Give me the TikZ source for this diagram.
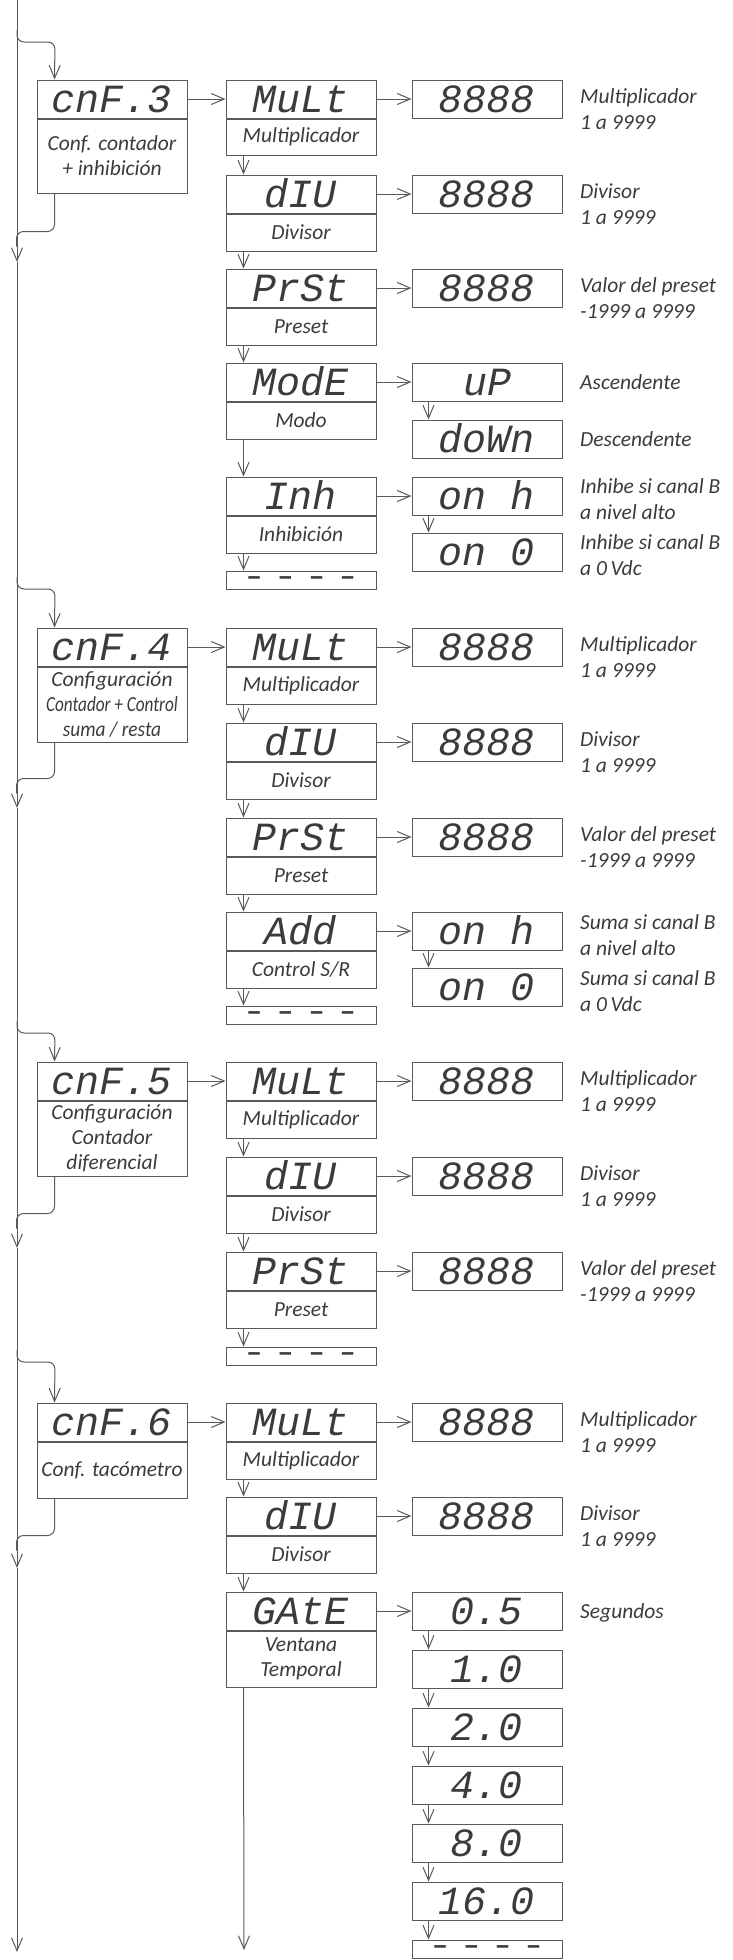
\documentclass[tikz,border=0pt]{standalone}
\usepackage{fontspec}
\setmainfont{Carlito}
\newfontfamily\segfont{Liberation Mono}
\usetikzlibrary{arrows.meta,positioning}
\definecolor{linec}{HTML}{595959}
\definecolor{textc}{HTML}{3B3B3B}
\newcommand{\dashrow}{\raisebox{-4pt}{\textendash\ \textendash\ \textendash\ \textendash}}

\begin{document}
\begin{tikzpicture}[x=1pt,y=-1pt,
    flow/.style={-{Straight Barb[length=13pt,width=11pt]},draw=linec,line width=1pt},
    link/.style={draw=linec,line width=1pt,rounded corners=7pt},
    disp/.style={draw=linec,line width=1pt,minimum width=150pt,minimum height=38pt,inner sep=0pt,
                 text=textc,font=\segfont\itshape\fontsize{40}{40}\selectfont,
                 text height=26pt,text depth=0pt},
    dashbox/.style={disp,minimum height=18pt,text height=0pt,text depth=0pt,
                    font=\segfont\bfseries\fontsize{26}{26}\selectfont},
    lab/.style={draw=linec,line width=1pt,minimum width=150pt,inner sep=0pt,text=textc,
                align=center,font=\itshape\fontsize{21.5}{25}\selectfont},
    note/.style={anchor=base west,inner sep=0pt,text=textc,align=left,
                 font=\itshape\fontsize{21.5}{26}\selectfont}]
    \useasboundingbox (0,0) rectangle (733,1960);

    %main line
    \coordinate (top) at (17,0);
    \coordinate (j3) at (17,262);
    \coordinate (j4) at (17,808);
    \coordinate (j5) at (17,1248);
    \coordinate (j6) at (17,1568);
    \coordinate (bot) at (17,1952);
    \coordinate (s3) at (17,30);
    \coordinate (s4) at (17,577);
    \coordinate (s5) at (17,1021);
    \coordinate (s6) at (17,1350);
    \draw [flow] (top) -- (j3);
    \draw [flow] (j3) -- (j4);
    \draw [flow] (j4) -- (j5);
    \draw [flow] (j5) -- (j6);
    \draw [flow] (j6) -- (bot);

    %cnF.3
    \node [disp] (cnf3) at (112,99) {cnF.3};
    \node [lab,minimum height=74pt,below=0pt of cnf3] (cnf3l) {Conf. contador\\+ inhibición};
    \node [disp] (mult3) at (301,99) {MuLt};
    \node [lab,minimum height=36pt,below=0pt of mult3] (mult3l) {Multiplicador};
    \node [disp] (div3) at (301,194) {dIU};
    \node [lab,minimum height=37pt,below=0pt of div3] (div3l) {Divisor};
    \node [disp] (prst3) at (301,288) {PrSt};
    \node [lab,minimum height=37pt,below=0pt of prst3] (prst3l) {Preset};
    \node [disp] (mode3) at (301,382) {ModE};
    \node [lab,minimum height=37pt,below=0pt of mode3] (mode3l) {Modo};
    \node [disp] (inh3) at (301,496) {Inh};
    \node [lab,minimum height=37pt,below=0pt of inh3] (inh3l) {Inhibición};
    \node [dashbox] (end3) at (301,580) {\dashrow};
    \node [disp] (mval3) at (487,99) {8888};
    \node [disp] (dval3) at (487,194) {8888};
    \node [disp] (pval3) at (487,288) {8888};
    \node [disp] (up3) at (487,382) {uP};
    \node [disp] (down3) at (487,439) {doWn};
    \node [disp] (onh3) at (487,496) {on h};
    \node [disp] (on03) at (487,552) {on 0};
    \node [note] (nm3) at (580,129) {Multiplicador\\1 a 9999};
    \node [note] (nd3) at (580,224) {Divisor\\1 a 9999};
    \node [note] (np3) at (580,318) {Valor del preset\\-1999 a 9999};
    \node [note] (na3) at (580,389) {Ascendente};
    \node [note] (nds3) at (580,446) {Descendente};
    \node [note] (nh3) at (580,519) {Inhibe si canal B\\a nivel alto};
    \node [note] (n03) at (580,575) {Inhibe si canal B\\a 0\,Vdc};
    \draw [flow,rounded corners=7pt] (s3) |- ++(38,12) -- ([xshift=18pt]cnf3.north west);
    \draw [link] ([xshift=18pt]cnf3l.south west) |- ++(-38,38) -- ++(0,15);
    \draw [flow] (cnf3.east) -- (mult3.west);
    \draw [flow] (mult3.east) -- (mval3.west);
    \draw [flow] (div3.east) -- (dval3.west);
    \draw [flow] (prst3.east) -- (pval3.west);
    \draw [flow] (mode3.east) -- (up3.west);
    \draw [flow] (inh3.east) -- (onh3.west);
    \draw [flow] ([xshift=18pt]mult3l.south west) -- ([xshift=18pt]div3.north west);
    \draw [flow] ([xshift=18pt]div3l.south west) -- ([xshift=18pt]prst3.north west);
    \draw [flow] ([xshift=18pt]prst3l.south west) -- ([xshift=18pt]mode3.north west);
    \draw [flow] ([xshift=18pt]mode3l.south west) -- ([xshift=18pt]inh3.north west);
    \draw [flow] ([xshift=18pt]inh3l.south west) -- ([xshift=18pt]end3.north west);
    \draw [flow] ([xshift=17pt]up3.south west) -- ([xshift=17pt]down3.north west);
    \draw [flow] ([xshift=17pt]onh3.south west) -- ([xshift=17pt]on03.north west);

    %cnF.4
    \node [disp] (cnf4) at (112,647) {cnF.4};
    \node [lab,minimum height=75pt,below=0pt of cnf4] (cnf4l) {Configuración\\\scalebox{0.8}[1]{Contador + Control}\\\scalebox{0.9}[1]{suma / resta}};
    \node [disp] (mult4) at (301,647) {MuLt};
    \node [lab,minimum height=37pt,below=0pt of mult4] (mult4l) {Multiplicador};
    \node [disp] (div4) at (301,742) {dIU};
    \node [lab,minimum height=37pt,below=0pt of div4] (div4l) {Divisor};
    \node [disp] (prst4) at (301,837) {PrSt};
    \node [lab,minimum height=37pt,below=0pt of prst4] (prst4l) {Preset};
    \node [disp] (add4) at (301,931) {Add};
    \node [lab,minimum height=37pt,below=0pt of add4] (add4l) {Control S/R};
    \node [dashbox] (end4) at (301,1015) {\dashrow};
    \node [disp] (mval4) at (487,647) {8888};
    \node [disp] (dval4) at (487,742) {8888};
    \node [disp] (pval4) at (487,837) {8888};
    \node [disp] (onh4) at (487,931) {on h};
    \node [disp] (on04) at (487,987) {on 0};
    \node [note] (nm4) at (580,677) {Multiplicador\\1 a 9999};
    \node [note] (nd4) at (580,772) {Divisor\\1 a 9999};
    \node [note] (np4) at (580,867) {Valor del preset\\-1999 a 9999};
    \node [note] (nh4) at (580,955) {Suma si canal B\\a nivel alto};
    \node [note] (n04) at (580,1011) {Suma si canal B\\a 0\,Vdc};
    \draw [flow,rounded corners=7pt] (s4) |- ++(38,12) -- ([xshift=18pt]cnf4.north west);
    \draw [link] ([xshift=18pt]cnf4l.south west) |- ++(-38,36) -- ++(0,15);
    \draw [flow] (cnf4.east) -- (mult4.west);
    \draw [flow] (mult4.east) -- (mval4.west);
    \draw [flow] (div4.east) -- (dval4.west);
    \draw [flow] (prst4.east) -- (pval4.west);
    \draw [flow] (add4.east) -- (onh4.west);
    \draw [flow] ([xshift=18pt]mult4l.south west) -- ([xshift=18pt]div4.north west);
    \draw [flow] ([xshift=18pt]div4l.south west) -- ([xshift=18pt]prst4.north west);
    \draw [flow] ([xshift=18pt]prst4l.south west) -- ([xshift=18pt]add4.north west);
    \draw [flow] ([xshift=18pt]add4l.south west) -- ([xshift=18pt]end4.north west);
    \draw [flow] ([xshift=17pt]onh4.south west) -- ([xshift=17pt]on04.north west);

    %cnF.5
    \node [disp] (cnf5) at (112,1081) {cnF.5};
    \node [lab,minimum height=75pt,below=0pt of cnf5] (cnf5l) {Configuración\\Contador\\diferencial};
    \node [disp] (mult5) at (301,1081) {MuLt};
    \node [lab,minimum height=37pt,below=0pt of mult5] (mult5l) {Multiplicador};
    \node [disp] (div5) at (301,1176) {dIU};
    \node [lab,minimum height=37pt,below=0pt of div5] (div5l) {Divisor};
    \node [disp] (prst5) at (301,1271) {PrSt};
    \node [lab,minimum height=37pt,below=0pt of prst5] (prst5l) {Preset};
    \node [dashbox] (end5) at (301,1356) {\dashrow};
    \node [disp] (mval5) at (487,1081) {8888};
    \node [disp] (dval5) at (487,1176) {8888};
    \node [disp] (pval5) at (487,1271) {8888};
    \node [note] (nm5) at (580,1111) {Multiplicador\\1 a 9999};
    \node [note] (nd5) at (580,1206) {Divisor\\1 a 9999};
    \node [note] (np5) at (580,1301) {Valor del preset\\-1999 a 9999};
    \draw [flow,rounded corners=7pt] (s5) |- ++(38,12) -- ([xshift=18pt]cnf5.north west);
    \draw [link] ([xshift=18pt]cnf5l.south west) |- ++(-38,37) -- ++(0,15);
    \draw [flow] (cnf5.east) -- (mult5.west);
    \draw [flow] (mult5.east) -- (mval5.west);
    \draw [flow] (div5.east) -- (dval5.west);
    \draw [flow] (prst5.east) -- (pval5.west);
    \draw [flow] ([xshift=18pt]mult5l.south west) -- ([xshift=18pt]div5.north west);
    \draw [flow] ([xshift=18pt]div5l.south west) -- ([xshift=18pt]prst5.north west);
    \draw [flow] ([xshift=18pt]prst5l.south west) -- ([xshift=18pt]end5.north west);

    %cnF.6
    \node [disp] (cnf6) at (112,1422) {cnF.6};
    \node [lab,minimum height=56pt,below=0pt of cnf6] (cnf6l) {Conf. tacómetro};
    \node [disp] (mult6) at (301,1422) {MuLt};
    \node [lab,minimum height=37pt,below=0pt of mult6] (mult6l) {Multiplicador};
    \node [disp] (div6) at (301,1516) {dIU};
    \node [lab,minimum height=37pt,below=0pt of div6] (div6l) {Divisor};
    \node [disp] (gate6) at (301,1611) {GAtE};
    \node [lab,minimum height=56pt,below=0pt of gate6] (gate6l) {Ventana\\Temporal};
    \node [disp] (mval6) at (487,1422) {8888};
    \node [disp] (dval6) at (487,1516) {8888};
    \node [disp] (g05) at (487,1611) {0.5};
    \node [disp,below=19pt of g05] (g10) {1.0};
    \node [disp,below=19pt of g10] (g20) {2.0};
    \node [disp,below=19pt of g20] (g40) {4.0};
    \node [disp,below=19pt of g40] (g80) {8.0};
    \node [disp,below=19pt of g80] (g160) {16.0};
    \node [dashbox,below=19pt of g160] (end6) {\dashrow};
    \node [note] (nm6) at (580,1452) {Multiplicador\\1 a 9999};
    \node [note] (nd6) at (580,1546) {Divisor\\1 a 9999};
    \node [note] (ns6) at (580,1618) {Segundos};
    \coordinate (gout) at (244,1950);
    \draw [flow,rounded corners=7pt] (s6) |- ++(38,12) -- ([xshift=18pt]cnf6.north west);
    \draw [link] ([xshift=18pt]cnf6l.south west) |- ++(-38,37) -- ++(0,15);
    \draw [flow] (cnf6.east) -- (mult6.west);
    \draw [flow] (mult6.east) -- (mval6.west);
    \draw [flow] (div6.east) -- (dval6.west);
    \draw [flow] (gate6.east) -- (g05.west);
    \draw [flow] ([xshift=18pt]mult6l.south west) -- ([xshift=18pt]div6.north west);
    \draw [flow] ([xshift=18pt]div6l.south west) -- ([xshift=18pt]gate6.north west);
    \draw [flow] ([xshift=18pt]gate6l.south west) -- (gout);
    \draw [flow] ([xshift=17pt]g05.south west) -- ([xshift=17pt]g10.north west);
    \draw [flow] ([xshift=17pt]g10.south west) -- ([xshift=17pt]g20.north west);
    \draw [flow] ([xshift=17pt]g20.south west) -- ([xshift=17pt]g40.north west);
    \draw [flow] ([xshift=17pt]g40.south west) -- ([xshift=17pt]g80.north west);
    \draw [flow] ([xshift=17pt]g80.south west) -- ([xshift=17pt]g160.north west);
    \draw [flow] ([xshift=17pt]g160.south west) -- ([xshift=17pt]end6.north west);
\end{tikzpicture}
\end{document}
